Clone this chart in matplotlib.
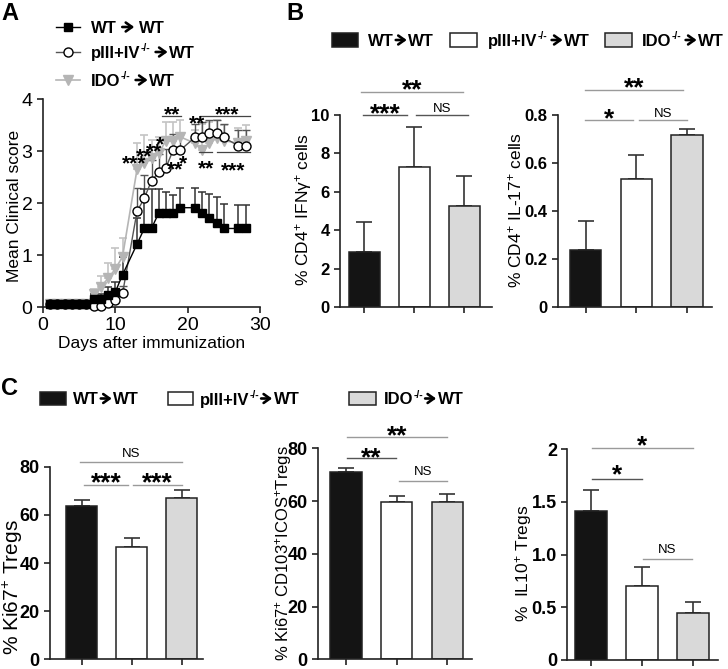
import matplotlib
matplotlib.use("Agg")
import matplotlib.pyplot as plt
import numpy as np
from matplotlib.patches import Rectangle
from matplotlib.font_manager import FontProperties
from matplotlib.textpath import TextPath

plt.rcParams['font.family'] = ['Liberation Sans', 'DejaVu Sans']
plt.rcParams['mathtext.fontset'] = 'custom'
plt.rcParams['mathtext.rm'] = 'Liberation Sans'
plt.rcParams['mathtext.bf'] = 'Liberation Sans:bold'
plt.rcParams['mathtext.it'] = 'Liberation Sans:italic'

# ---------------- data ----------------
# groups: (donor, superscript, recipient)
groups = [('WT', '', 'WT'), ('pIII+IV', '-/-', 'WT'), ('IDO', '-/-', 'WT')]

days = [1, 2, 3, 4, 5, 6, 7, 8, 9, 10, 11, 13, 14, 15, 16, 17, 18, 19, 21, 22, 23, 24, 25, 27, 28]
wt_mean = [0.05, 0.05, 0.05, 0.05, 0.05, 0.05, 0.15, 0.15, 0.23, 0.29, 0.62, 1.21, 1.51, 1.51,
           1.81, 1.81, 1.81, 1.91, 1.91, 1.81, 1.71, 1.61, 1.51, 1.51, 1.51]
wt_err = [0, 0, 0, 0, 0, 0, 0.10, 0.10, 0.15, 0.20, 0.35, 0.50, 0.75, 0.75,
          0.45, 0.40, 0.35, 0.37, 0.37, 0.40, 0.47, 0.50, 0.47, 0.45, 0.45]
p34_mean = [0.05, 0.05, 0.05, 0.05, 0.05, 0.05, 0.02, 0.02, 0.08, 0.13, 0.26, 1.84, 2.09, 2.43,
            2.59, 2.68, 3.02, 3.02, 3.26, 3.26, 3.34, 3.34, 3.26, 3.10, 3.10]
p34_err = [0, 0, 0, 0, 0, 0, 0.05, 0.05, 0.10, 0.10, 0.15, 0.45, 0.45, 0.40,
           0.35, 0.35, 0.30, 0.30, 0.25, 0.30, 0.25, 0.25, 0.25, 0.30, 0.30]
ido_mean = [0.05, 0.05, 0.05, 0.05, 0.05, 0.05, 0.25, 0.39, 0.55, 0.73, 0.97, 2.65, 2.76, 2.86,
            2.96, 3.20, 3.20, 3.27, 3.15, 3.02, 3.15, 3.25, 3.20, 3.15, 3.20]
ido_err = [0, 0, 0, 0, 0, 0, 0.10, 0.20, 0.30, 0.40, 0.35, 0.50, 0.55, 0.35,
           0.30, 0.35, 0.35, 0.32, 0.25, 0.50, 0.40, 0.35, 0.30, 0.30, 0.30]

ifng_mean = [2.85, 7.3, 5.25]
ifng_err = [1.6, 2.1, 1.6]
il17_mean = [0.24, 0.535, 0.715]
il17_err = [0.12, 0.10, 0.025]
ki67_mean = [63.5, 46.5, 67.0]
ki67_err = [2.5, 4.0, 3.5]
kicd_mean = [71.2, 59.5, 59.5]
kicd_err = [1.2, 2.3, 3.0]
il10_mean = [1.41, 0.70, 0.45]
il10_err = [0.20, 0.18, 0.10]

# ---------------- figure ----------------
W, H = 728, 669
fig = plt.figure(figsize=(W / 100, H / 100), dpi=100)

fp_bold = FontProperties(family='Liberation Sans', weight='bold')
_ext = TextPath((0, 0), '*', size=1, prop=fp_bold).get_extents()
STAR_MID = (_ext.y0 + _ext.y1) / 2
STAR_HALF = (_ext.y1 - _ext.y0) / 2
STAR_BAR = 19
STAR_A = 15


def px_axes(l, t, r, b):
    return fig.add_axes([l / W, 1 - b / H, (r - l) / W, (b - t) / H])


def style_axes(ax):
    for s in ['top', 'right']:
        ax.spines[s].set_visible(False)
    for s in ['left', 'bottom']:
        ax.spines[s].set_linewidth(1.2)
        ax.spines[s].set_color('#222222')
    ax.tick_params(direction='out', length=4, width=1.2, color='#222222')


def star_center(ax, x, y, s, size):
    ax.annotate(s, (x, y), xytext=(0, -STAR_MID * size), textcoords='offset points',
                ha='center', va='baseline', fontsize=size, fontweight='bold',
                annotation_clip=False, zorder=6)


def star_above(ax, x, y, s, gap, size):
    ax.annotate(s, (x, y), xytext=(0, gap + STAR_HALF * size - STAR_MID * size),
                textcoords='offset points', ha='center', va='baseline', fontsize=size,
                fontweight='bold', annotation_clip=False, zorder=6)


def ns_above(ax, x, y, gap=3.0):
    ax.annotate('NS', (x, y), xytext=(0, gap), textcoords='offset points', ha='center',
                va='baseline', fontsize=9.5, annotation_clip=False, zorder=6)


bar_colors = ['#141414', '#ffffff', '#d9d9d9']

# ---------- Panel A ----------
axA = px_axes(43, 99, 260, 307)
style_axes(axA)
axA.set_xlim(0, 30)
axA.set_ylim(0, 4)
axA.set_xticks([0, 10, 20, 30])
axA.set_yticks([0, 1, 2, 3, 4])
axA.tick_params(labelsize=14)
axA.set_xlabel('Days after immunization', fontsize=12.5, labelpad=1)

st_ido = dict(color='#b5b5b5', marker='v', ms=6.5, mfc='#b5b5b5', mec='#b5b5b5', lw=1.2)
st_p34 = dict(color='#555555', marker='o', ms=6.5, mfc='white', mec='black', mew=1.0, lw=1.0)
st_wt = dict(color='black', marker='s', ms=5.5, mfc='black', mec='black', lw=1.0)

zeros = np.zeros(len(days))
axA.errorbar(days, ido_mean, yerr=[zeros, ido_err], fmt='none', ecolor='#c4c4c4',
             elinewidth=1.2, capsize=2.6, capthick=1.2, zorder=1, clip_on=False)
axA.errorbar(days, p34_mean, yerr=[zeros, p34_err], fmt='none', ecolor='#555555',
             elinewidth=1.0, capsize=2.6, capthick=1.0, zorder=1.2, clip_on=False)
axA.errorbar(days, wt_mean, yerr=[zeros, wt_err], fmt='none', ecolor='#333333',
             elinewidth=1.1, capsize=2.6, capthick=1.1, zorder=1.4, clip_on=False)
axA.plot(days, ido_mean, zorder=2, clip_on=False, **st_ido)
axA.plot(days, p34_mean, zorder=3, clip_on=False, **st_p34)
axA.plot(days, wt_mean, zorder=4, clip_on=False, **st_wt)

# significance marks in panel A
a_stars = [(12.6, 2.84, '***'), (14.0, 2.99, '**'), (15.3, 3.08, '**'), (16.2, 3.22, '*'),
           (21.3, 3.62, '**'), (18.2, 2.74, '**'), (19.4, 2.84, '*'),
           (22.5, 2.76, '**'), (26.3, 2.72, '***')]
a_lines = [(16.4, 19.1, 3.68, '**', 17.8), (21.7, 28.6, 3.68, '***', 25.4),
           (21.5, 23.3, 2.99, '', 0), (24.0, 28.6, 2.99, '', 0)]
for x, y, s in a_stars:
    star_center(axA, x, y, s, STAR_A)
for x0, x1, y, s, xs in a_lines:
    axA.plot([x0, x1], [y, y], color='#444444', lw=0.9, zorder=5, clip_on=False)
    if s:
        star_above(axA, xs, y, s, 1.0, STAR_A)


# ---------- bar panels ----------
def bar_panel(box, means, errs, ylim, ticks, ticklabels, xlim, sig, tick_size):
    ax = px_axes(*box)
    style_axes(ax)
    x = np.arange(len(means))
    ax.bar(x, means, width=0.62, color=bar_colors, edgecolor='#222222', linewidth=1.1, zorder=2)
    ax.errorbar(x, means, yerr=[np.zeros(len(means)), errs], fmt='none', ecolor='#333333',
                elinewidth=1.2, capsize=6, capthick=1.2, zorder=1)
    ax.set_xlim(*xlim)
    ax.set_ylim(*ylim)
    ax.set_xticks(x)
    ax.set_xticklabels([])
    ax.set_yticks(ticks)
    ax.set_yticklabels(ticklabels, fontsize=tick_size, fontweight='bold')
    for x0, x1, y, txt, color, gap in sig:
        ax.plot([x0, x1], [y, y], color=color, lw=1.0, clip_on=False)
        if txt == 'NS':
            ns_above(ax, (x0 + x1) / 2, y, gap)
        else:
            star_above(ax, (x0 + x1) / 2, y, txt, gap, STAR_BAR)
    return ax


grey = '#9a9a9a'
dark = '#555555'
bar_panel((340, 115, 492, 307.3), ifng_mean, ifng_err, (0, 10), [0, 2, 4, 6, 8, 10],
          ['0', '2', '4', '6', '8', '10'], (-0.48, 2.56),
          [(-0.02, 0.86, 10.0, '***', dark, 1.6), (1.04, 2.08, 10.0, 'NS', dark, 2.2),
           (-0.06, 1.98, 11.2, '**', grey, 2.2)], 12)
bar_panel((558, 115, 711.7, 307.3), il17_mean, il17_err, (0, 0.8), [0, 0.2, 0.4, 0.6, 0.8],
          ['0', '0.2', '0.4', '0.6', '0.8'], (-0.55, 2.49),
          [(-0.02, 0.93, 0.78, '*', grey, 1.6), (1.05, 2.0, 0.78, 'NS', grey, 2.2),
           (-0.02, 1.92, 0.904, '**', grey, 2.2)], 12)
bar_panel((50, 466.7, 203, 659.3), ki67_mean, ki67_err, (0, 80), [0, 20, 40, 60, 80],
          ['0', '20', '40', '60', '80'], (-0.64, 2.43),
          [(0.05, 0.92, 72.4, '***', grey, 2.2), (1.03, 2.01, 72.4, '***', grey, 2.2),
           (-0.03, 2.01, 82.0, 'NS', grey, 3.5)], 13)
bar_panel((318, 448.3, 471.7, 659.3), kicd_mean, kicd_err, (0, 80), [0, 20, 40, 60, 80],
          ['0', '20', '40', '60', '80'], (-0.55, 2.48),
          [(0.02, 0.99, 76.2, '**', dark, 1.2), (1.05, 2.0, 67.7, 'NS', grey, 4.0),
           (0.02, 1.99, 84.4, '**', grey, 1.2)], 13)
bar_panel((567.3, 449, 718, 660), il10_mean, il10_err, (0, 2), [0, 0.5, 1.0, 1.5, 2],
          ['0', '0.5', '1.0', '1.5', '2'], (-0.47, 2.49),
          [(0.01, 1.0, 1.72, '*', dark, 3.5), (0.01, 1.99, 2.006, '*', grey, 2.2),
           (1.02, 1.98, 0.96, 'NS', grey, 3.8)], 13)

# ---------- overlay: letters, legends, labels ----------
ov = fig.add_axes([0, 0, 1, 1], zorder=10)
ov.set_xlim(0, W)
ov.set_ylim(H, 0)
ov.axis('off')
ov.patch.set_alpha(0)
renderer = fig.canvas.get_renderer()

for lx, ly, s in [(1, 2, 'A'), (286, 2, 'B'), (1, 377, 'C')]:
    ov.text(lx, ly, s, fontsize=17, fontweight='bold', ha='left', va='top')


def rich_label(x, yc, group, size=12, gaps=(2, 2), arrow_len=12):
    """Donor + small superscript + arrow + recipient, left-aligned at x, centred at yc."""
    donor, sup, recip = group
    em = size * 100 / 72
    base = yc + 0.36 * em
    t = ov.text(x, base, donor, fontsize=size, fontweight='bold', ha='left', va='baseline')
    x += t.get_window_extent(renderer=renderer).width + 0.5
    if sup:
        t = ov.text(x, base - 0.42 * em, sup, fontsize=size * 0.62, fontweight='bold',
                    ha='left', va='baseline')
        x += t.get_window_extent(renderer=renderer).width
    x += gaps[0]
    ov.annotate('', xy=(x + arrow_len, base - 0.36 * em), xytext=(x, base - 0.36 * em),
                arrowprops=dict(arrowstyle='->,head_length=0.45,head_width=0.32', lw=1.9,
                                color='black', shrinkA=0, shrinkB=0, mutation_scale=10))
    x += arrow_len + gaps[1]
    ov.text(x, base, recip, fontsize=size, fontweight='bold', ha='left', va='baseline')


# legend A
for (yy, st, grp, gaps) in zip([27, 52, 80], [st_wt, st_p34, st_ido], groups,
                               [(5, 5), (5, 1.5), (5, 1.5)]):
    ov.plot([56, 80], [yy, yy], color=st['color'], lw=st['lw'])
    ov.plot([68], [yy], ls='none', **{k: v for k, v in st.items() if k not in ('lw', 'color')})
    rich_label(91, yy, grp, 12, gaps)

# legend B and C
for rects, texts, ry, rh, gaps in [
        ([(332, 358), (450, 477), (605, 632)], [368, 488, 642], 33, 14,
         [(1.5, 1.5), (4, 1.5), (4, 1.5)]),
        ([(40, 66), (168, 193), (349, 376)], [73, 200, 384], 392, 13,
         [(1.5, 1.5), (1.5, 1.5), (1.5, 1.5)])]:
    for (x0, x1), tx, c, grp, g in zip(rects, texts, bar_colors, groups, gaps):
        ov.add_patch(Rectangle((x0, ry), x1 - x0, rh, facecolor=c, edgecolor='#222222', lw=1.1))
        rich_label(tx, ry + rh / 2, grp, 12, g, 11)

# y labels
ylabels = [(15, 206, 'Mean Clinical score', 12.5),
           (304, 210, r'% CD4$^{+}$ IFNγ$^{+}$ cells', 12.5),
           (515, 210, r'% CD4$^{+}$ IL-17$^{+}$ cells', 12.5),
           (13, 587, r'% Ki67$^{+}$ Tregs', 15),
           (283, 553, r'% Ki67$^{+}$ CD103$^{+}$ICOS$^{+}$Tregs', 12),
           (523, 563, r'%  IL10$^{+}$ Tregs', 12.5)]
for x, y, s, fs in ylabels:
    ov.text(x, y, s, fontsize=fs, rotation=90, ha='center', va='center')

fig.savefig('out.png', dpi=100)
